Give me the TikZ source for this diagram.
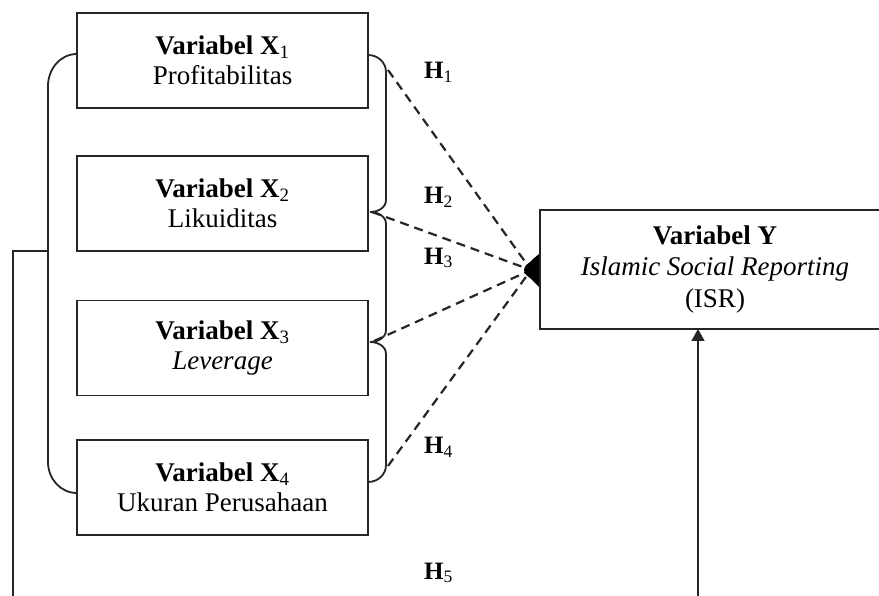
\documentclass[tikz,border=0pt]{standalone}
\usepackage{fontspec}
\setmainfont{Liberation Serif}
\usetikzlibrary{arrows.meta}
\begin{document}
\begin{tikzpicture}[x=1pt,y=-1pt,
  ln/.style={draw=black!85,line width=1.8pt},
  box/.style={ln,fill=white,minimum width=291pt,minimum height=95pt,inner sep=0pt,align=center,font=\fontsize{27}{30}\selectfont},
  ybox/.style={ln,fill=white,minimum width=350pt,minimum height=119pt,inner sep=0pt,align=center,font=\fontsize{27}{31.5}\selectfont},
  hyp/.style={draw=black!85,line width=2.2pt,dash pattern=on 9pt off 6pt},
  hlab/.style={anchor=west,inner sep=0pt,font=\bfseries\fontsize{25}{28}\selectfont}]
\useasboundingbox (0,0) rectangle (879,596);
\clip (0,0) rectangle (879,596);
\fill[white] (0,0) rectangle (879,596);
% boxes
\node[box] (b1) at (222.5,60.5) {{\bfseries Variabel X\textsubscript{\mdseries 1}}\\Profitabilitas};
\node[box] (b2) at (222.5,203.5) {{\bfseries Variabel X\textsubscript{\mdseries 2}}\\Likuiditas};
\node[box] (b3) at (222.5,348) {{\bfseries Variabel X\textsubscript{\mdseries 3}}\\\textit{Leverage}};
\node[box] (b4) at (222.5,487.5) {{\bfseries Variabel X\textsubscript{\mdseries 4}}\\Ukuran Perusahaan};
\node[ybox] (y) at (715,269.5) {{\bfseries Variabel Y}\\\textit{Islamic Social Reporting}\\(ISR)};
% left bracket
\coordinate (lb) at (48,251);
\draw[ln] (77,54) to[out=180,in=90] (48,86) -- (48,462) to[out=270,in=180] (77,493);
% right brace
\draw[ln] (368,55) to[out=0,in=90] (386,72) -- (386,200) to[out=270,in=0] (370,212)
  to[out=0,in=90] (386,224) -- (386,330) to[out=270,in=0] (370,342)
  to[out=0,in=90] (386,354) -- (386,465) to[out=270,in=0] (368,482);
\coordinate (t1) at (388,70);
\coordinate (t2) at (372,212);
\coordinate (t3) at (374,341);
\coordinate (t4) at (388,466);
\coordinate (dot) at (531,270);
\draw[hyp] (t1) -- (dot);
\draw[hyp] (t2) -- (dot);
\draw[hyp] (t3) -- (dot);
\draw[hyp] (t4) -- (dot);
\fill[black] (539,254) -- (533,259) to[out=235,in=90] (524,270) to[out=270,in=125] (533,281) -- (539,287) -- cycle;
% labels
\node[hlab] (h1) at (424,72) {H\textsubscript{\mdseries 1}};
\node[hlab] (h2) at (424,197) {H\textsubscript{\mdseries 2}};
\node[hlab] (h3) at (424,258) {H\textsubscript{\mdseries 3}};
\node[hlab] (h4) at (424,447) {H\textsubscript{\mdseries 4}};
\node[hlab] (h5) at (424,573) {H\textsubscript{\mdseries 5}};
% moderating path
\coordinate (yin) at (698,329);
\draw[ln,-{Triangle[width=13pt,length=12pt]}] (lb) -- (13,251) -- (13,640) -- (698,640) -- (yin);
\end{tikzpicture}
\end{document}
